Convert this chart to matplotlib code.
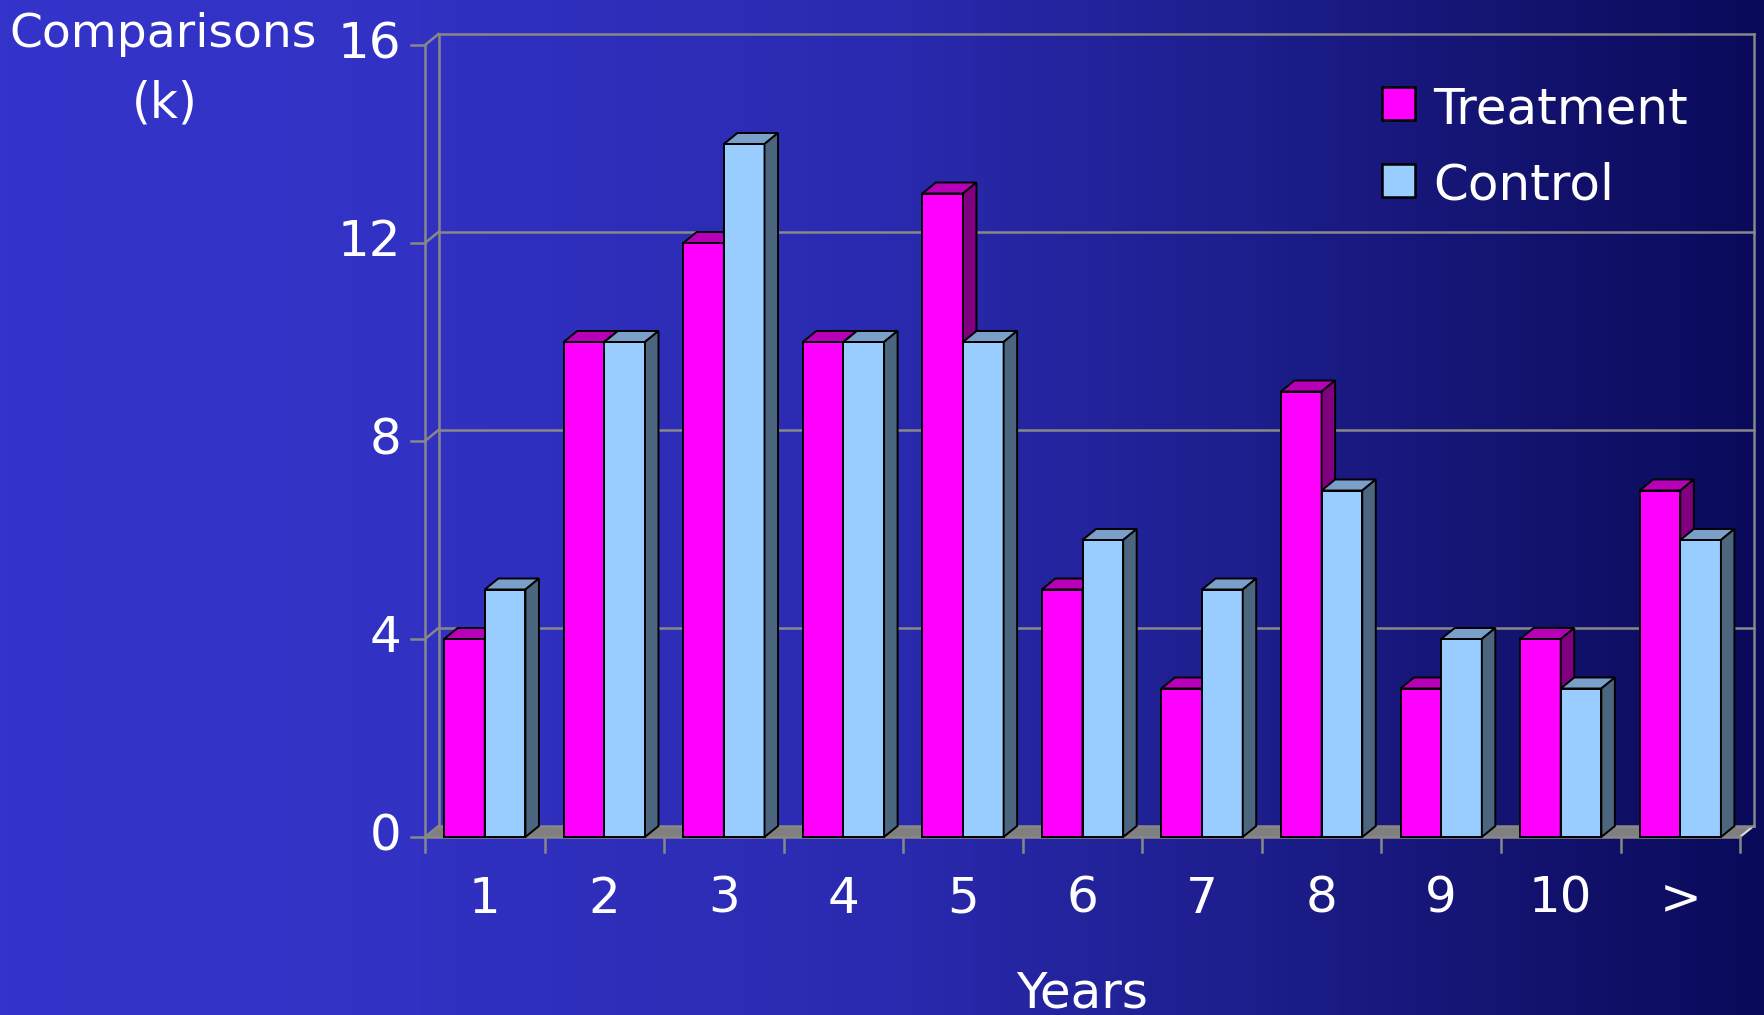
import numpy as np
import matplotlib
matplotlib.use('Agg')
import matplotlib.pyplot as plt
from matplotlib.patches import Polygon, Rectangle

years = ['1', '2', '3', '4', '5', '6', '7', '8', '9', '10', '>']
treatment = [4, 10, 12, 10, 13, 5, 3, 9, 3, 4, 7]
control = [5, 10, 14, 10, 10, 6, 5, 7, 4, 3, 6]
y_ticks = [0, 4, 8, 12, 16]

W, H = 1764, 1015
fig = plt.figure(figsize=(W / 100, H / 100), dpi=100)
ax = fig.add_axes([0, 0, 1, 1])
# front plane: x=0 at px 425, one category = 119.55 px; y=0 at px 837, 49.5 px per unit
xpx, ypx = 119.55, 49.5
x0, y0 = 425, H - 837
ax.set_xlim(-x0 / xpx, (W - x0) / xpx)
ax.set_ylim(-y0 / ypx, (H - y0) / ypx)
ax.axis('off')

# background gradient (bright on the left, fading to navy on the right)
t = np.linspace(0, 1, 512)
stops = [0, 0.2, 0.5, 0.7, 0.85, 1.0]
rg = [52, 50, 42, 30, 20, 10]
bl = [202, 197, 176, 142, 114, 90]
r = np.interp(t, stops, rg) / 255
b = np.interp(t, stops, bl) / 255
img = np.stack([r, r, b], axis=-1)
ax.imshow(img[None, :, :], extent=[*ax.get_xlim(), *ax.get_ylim()], aspect='auto', zorder=0)

dx, dy = 13.5 / xpx, 11 / ypx
n = len(years)
GRID = '#888888'

# floor
ax.add_patch(Polygon([(0, 0), (n, 0), (n + dx, dy), (dx, dy)], closed=True,
                     facecolor='#808080', edgecolor='none', zorder=1))
ax.plot([n, n + dx], [0, dy], color='#dddddd', lw=1.5, zorder=1)

# back wall and axes
for v in y_ticks:
    ax.plot([dx, n + dx], [v + dy, v + dy], color=GRID, lw=1.8, zorder=1)
    ax.plot([0, dx], [v, v + dy], color=GRID, lw=1.8, zorder=1)
    ax.plot([-0.12, 0], [v, v], color=GRID, lw=1.8, zorder=1)
    ax.text(-0.2, v - 0.27, str(v), color='white', fontsize=36, ha='right', va='baseline')
ax.plot([dx, dx], [dy, 16 + dy], color=GRID, lw=1.8, zorder=1)
ax.plot([n + dx, n + dx], [dy, 16 + dy], color=GRID, lw=1.8, zorder=1)
ax.plot([0, 0], [0, 16], color=GRID, lw=1.8, zorder=1)
ax.plot([0, n], [0, 0], color=GRID, lw=1.8, zorder=1)
for i in range(n + 1):
    ax.plot([i, i], [0, -0.3], color=GRID, lw=1.8, zorder=1)
for i, lab in enumerate(years):
    ax.text(i + 0.5, -1.535, lab, color='white', fontsize=36, ha='center', va='baseline')


def bar3d(x, w, v, front, top, side):
    ax.add_patch(Rectangle((x, 0), w, v, facecolor=front, edgecolor='black', lw=1.4, zorder=3))
    ax.add_patch(Polygon([(x, v), (x + w, v), (x + w + dx, v + dy), (x + dx, v + dy)],
                         closed=True, facecolor=top, edgecolor='black', lw=1.4, zorder=3))
    ax.add_patch(Polygon([(x + w, 0), (x + w + dx, dy), (x + w + dx, v + dy), (x + w, v)],
                         closed=True, facecolor=side, edgecolor='black', lw=1.4, zorder=3))


bw = 0.34
for i in range(n):
    bar3d(i + 0.16, bw, treatment[i], '#ff00ff', '#b800b8', '#800080')
    bar3d(i + 0.16 + bw, bw, control[i], '#99ccff', '#7a9fc8', '#4d6680')

# legend
for yb, lab, col in [(14.48, 'Treatment', '#ff00ff'), (12.93, 'Control', '#99ccff')]:
    ax.add_patch(Rectangle((8.005, yb), 0.276, 0.667, facecolor=col, edgecolor='black', lw=1.8, zorder=4))
    ax.text(8.43, yb - 0.06, lab, color='white', fontsize=36, ha='left', va='baseline')

# axis titles
fig.text(163 / W, 1 - 47 / H, 'Comparisons', color='white', fontsize=34, ha='center', va='baseline')
fig.text(165 / W, 1 - 118 / H, '(k)', color='white', fontsize=35, ha='center', va='baseline')
ax.text(5.5, -3.45, 'Years', color='white', fontsize=36, ha='center', va='baseline')

fig.savefig('out.png', dpi=100)
